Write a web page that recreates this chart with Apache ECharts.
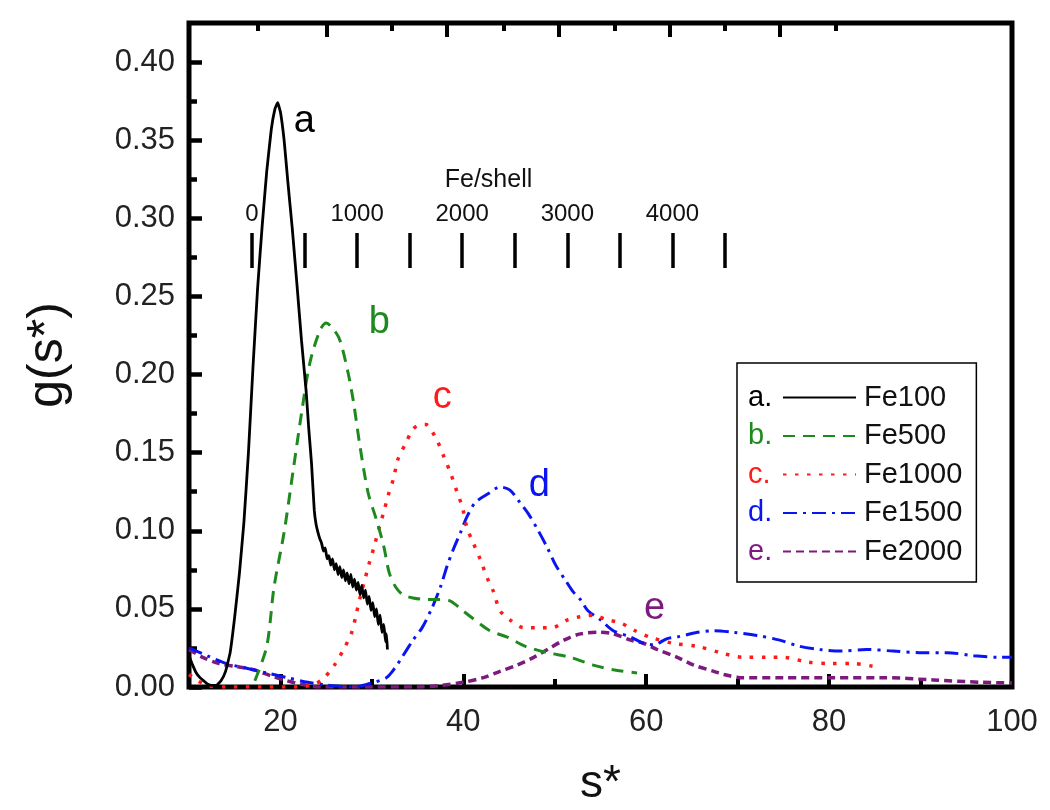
<!DOCTYPE html>
<html><head><meta charset="utf-8">
<script src="https://cdn.jsdelivr.net/npm/echarts@6/dist/echarts.min.js"></script>
<style>html,body{margin:0;padding:0;background:#fff}#c{width:1050px;height:810px}</style>
</head><body><div id="c"></div>
<script>
// ---------- data ----------
const seriesNames = ['Fe100', 'Fe500', 'Fe1000', 'Fe1500', 'Fe2000'];
const seriesTags = ['a', 'b', 'c', 'd', 'e'];
const xTickLabels = [20, 40, 60, 80, 100];
const xMinorTicks = [30, 50, 70, 90];
const yTickLabels = [0, 0.05, 0.10, 0.15, 0.20, 0.25, 0.30, 0.35, 0.40];
const yMinorTicks = [0.025, 0.075, 0.125, 0.175, 0.225, 0.275, 0.325, 0.375];
const topLongTicks = [25.1, 38.2, 50.4, 62.6, 74.6];
const topShortTicks = [17.5, 32.2, 44.4, 56.6, 68.6, 80.7];
const feShellLabels = [0, 1000, 2000, 3000, 4000];
const tagAnchors = [[22.6, 0.362], [30.8, 0.233], [37.7, 0.185], [48.3, 0.129], [60.9, 0.050]];

const fe100 = [[10,0.020],[10.4,0.014],[10.8,0.009],[11.2,0.006],[11.6,0.004],[12.0,0.002],[12.5,0.001],[13.0,0.001],[13.5,0.004],
 [14.0,0.010],[14.5,0.022],[15.0,0.045],[15.5,0.072],[16.0,0.105],[16.5,0.150],[17.0,0.205],[17.5,0.255],[18.0,0.295],[18.5,0.330],
 [19.0,0.357],[19.4,0.370],[19.7,0.374],[20.0,0.368],[20.4,0.350],[20.8,0.324],[21.3,0.293],[21.8,0.258],[22.3,0.222],[22.8,0.190],
 [23.1,0.165],[23.4,0.143],[23.7,0.113],[23.9,0.104],[24.1,0.099],[24.3,0.095],[24.5,0.092],[24.7,0.087],[24.9,0.089],[25.1,0.082],
 [25.3,0.084],[25.5,0.078],[25.7,0.082],[25.9,0.075],[26.1,0.079],[26.3,0.072],[26.5,0.077],[26.7,0.070],[26.9,0.075],[27.1,0.068],
 [27.3,0.073],[27.5,0.066],[27.7,0.072],[27.9,0.064],[28.1,0.069],[28.3,0.062],[28.5,0.067],[28.7,0.059],[28.9,0.065],[29.1,0.057],
 [29.3,0.062],[29.5,0.053],[29.7,0.058],[29.9,0.049],[30.1,0.054],[30.3,0.045],[30.5,0.050],[30.7,0.040],[30.9,0.046],[31.1,0.035],
 [31.3,0.040],[31.5,0.029],[31.6,0.034],[31.7,0.024]];
const fe500 = [[17.2,0.004],[18.5,0.026],[19.3,0.064],[20.4,0.099],[21.4,0.139],[22.3,0.175],[23.2,0.207],[24.3,0.228],[25.0,0.233],
 [25.8,0.229],[26.5,0.222],[27.4,0.201],[28.0,0.182],[28.7,0.154],[29.6,0.124],[30.5,0.107],[31.3,0.090],[31.9,0.073],[32.6,0.064],
 [33.4,0.059],[34.5,0.057],[36.0,0.056],[37.3,0.056],[38.6,0.055],[39.7,0.050],[40.8,0.045],[42.9,0.036],[44.8,0.032],[46.8,0.026],
 [49.2,0.022],[51.7,0.019],[54.2,0.014],[56.4,0.011],[59.0,0.009]];
const fe1000 = [[10,0.008],[11,0.004],[12,0.001],[14,0.0],[18,0.0],[22,0.0],[23.8,0.002],[24.8,0.006],[25.9,0.014],[27.0,0.025],
 [27.8,0.035],[28.3,0.047],[28.7,0.057],[29.2,0.068],[29.7,0.079],[30.3,0.091],[30.8,0.102],[31.3,0.112],[31.8,0.123],[32.4,0.134],
 [32.8,0.145],[33.7,0.156],[34.5,0.165],[35.3,0.168],[35.9,0.168],[37.1,0.158],[37.9,0.147],[38.6,0.137],[39.3,0.125],[39.9,0.115],
 [40.4,0.102],[41.1,0.092],[41.9,0.081],[42.6,0.070],[43.3,0.061],[44.0,0.049],[45.1,0.043],[46.6,0.038],[48.4,0.038],[49.7,0.038],
 [51.4,0.043],[52.8,0.045],[54.2,0.046],[55.7,0.043],[57.2,0.041],[58.8,0.036],[60.4,0.032],[62.9,0.028],[65.6,0.026],[68.1,0.022],
 [70.6,0.019],[73.2,0.019],[75.0,0.019],[77.6,0.016],[80.1,0.015],[82.7,0.015],[85.0,0.013]];
const fe1500 = [[10,0.025],[12,0.020],[14.1,0.015],[16.3,0.012],[18.5,0.009],[20.7,0.006],[23,0.003],[25,0.0013],[28,0.0],
 [30.2,0.003],[31.6,0.006],[32.5,0.012],[33.4,0.020],[34.5,0.030],[35.5,0.038],[36.6,0.051],[37.5,0.064],[38.2,0.077],[38.9,0.088],
 [39.7,0.099],[40.4,0.109],[41.3,0.118],[42.8,0.124],[44.0,0.128],[45.1,0.126],[46.2,0.118],[47.1,0.111],[48.2,0.100],[49.2,0.089],
 [50.1,0.078],[51.2,0.068],[52.0,0.061],[52.8,0.056],[53.6,0.049],[55.0,0.043],[56.4,0.036],[58.3,0.032],[59.7,0.028],[60.8,0.027],
 [62.3,0.031],[63.4,0.032],[65.6,0.035],[67.4,0.036],[69.5,0.035],[72.1,0.033],[74.6,0.030],[76.8,0.026],[79.0,0.024],[81.2,0.023],
 [84.1,0.024],[87.0,0.023],[89.9,0.022],[92.9,0.022],[95.8,0.020],[98.7,0.019],[100,0.019]];
const fe2000 = [[10,0.024],[11.5,0.019],[13.3,0.015],[15.2,0.013],[17.1,0.011],[19,0.007],[20.7,0.004],[22.1,0.002],[24.3,0.0],
 [30,0.0],[35,0.0],[37.5,0.001],[40.0,0.003],[42.2,0.006],[44.0,0.010],[45.9,0.014],[47.7,0.019],[49.2,0.024],[51.0,0.030],
 [52.8,0.034],[55.0,0.035],[56.4,0.034],[58.3,0.030],[59.7,0.028],[61.2,0.024],[63.4,0.019],[65.2,0.014],[67.4,0.010],[68.5,0.008],
 [70.3,0.006],[75.0,0.006],[80.5,0.006],[85.9,0.006],[91.4,0.0045],[96.8,0.003],[100,0.0026]];

const seriesData = [fe100, fe500, fe1000, fe1500, fe2000];
// ---------- styles ----------
const colors = ['#000000', '#1e8a1e', '#ff1a1a', '#0a14f0', '#7d1a7d'];
const dashes = ['solid', [12, 8], [3.5, 8.5], [14, 6, 3, 6], [8, 5]];
const widths = [2.8, 3, 3.5, 3, 3.5];
const smooths = [0.1, 0.3, 0.3, 0.3, 0.3];
const FONT = 'Liberation Sans, Arial, sans-serif';

const chart = echarts.init(document.getElementById('c'), null, {renderer: 'canvas'});

const series = seriesNames.map((n, i) => ({
  name: n, type: 'line', xAxisIndex: 0, yAxisIndex: 0,
  data: seriesData[i], showSymbol: false, symbol: 'none', smooth: smooths[i],
  lineStyle: {color: colors[i], width: widths[i], type: dashes[i]},
  itemStyle: {color: colors[i]},
  z: 5 - i,
  markPoint: {
    symbol: 'circle', symbolSize: 0, silent: true,
    label: {show: true, position: 'inside', formatter: seriesTags[i], fontSize: 38,
            fontFamily: FONT, color: colors[i]},
    data: [{coord: tagAnchors[i]}]
  }
}));

const tickLine = w => ({color: '#000', width: w});
const noLine = {show: false, onZero: false};

chart.setOption({
  animation: false,
  backgroundColor: '#fff',
  textStyle: {fontFamily: FONT},
  grid: [
    {left: 189, right: 38, top: 23, bottom: 123, show: true, borderColor: '#000', borderWidth: 5,
     backgroundColor: 'transparent', containLabel: false, outerBoundsMode: 'none'},
    {left: 252, width: 473, top: 233, height: 35, show: false, containLabel: false, outerBoundsMode: 'none'}
  ],
  xAxis: [
    {gridIndex: 0, type: 'value', position: 'bottom', min: 10, max: 100,
     axisLine: noLine, splitLine: {show: false},
     axisTick: {show: true, inside: true, length: 13, lineStyle: tickLine(4), customValues: xTickLabels},
     axisLabel: {show: true, customValues: xTickLabels, fontSize: 31, color: '#222', margin: 20, fontFamily: FONT},
     name: 's*', nameLocation: 'middle', nameGap: 74,
     nameTextStyle: {fontSize: 46, color: '#111', fontFamily: FONT}},
    {gridIndex: 0, type: 'value', position: 'bottom', offset: 0, min: 10, max: 100,
     axisLine: noLine, splitLine: {show: false}, axisLabel: {show: false},
     axisTick: {show: true, inside: true, length: 8, lineStyle: tickLine(4), customValues: xMinorTicks}},
    {gridIndex: 0, type: 'value', position: 'top', offset: 0, min: 10, max: 100,
     axisLine: noLine, splitLine: {show: false}, axisLabel: {show: false},
     axisTick: {show: true, inside: true, length: 14, lineStyle: tickLine(4), customValues: topLongTicks}},
    {gridIndex: 0, type: 'value', position: 'top', offset: 0, min: 10, max: 100,
     axisLine: noLine, splitLine: {show: false}, axisLabel: {show: false},
     axisTick: {show: true, inside: true, length: 8, lineStyle: tickLine(4), customValues: topShortTicks}},
    {gridIndex: 1, type: 'value', position: 'top', min: 0, max: 4500, interval: 500,
     axisLine: noLine, splitLine: {show: false},
     axisTick: {show: true, inside: true, length: 35, lineStyle: tickLine(3.5)},
     axisLabel: {show: true, customValues: feShellLabels, formatter: v => String(v),
                 fontSize: 24, color: '#111', margin: 7, fontFamily: FONT},
     name: 'Fe/shell', nameLocation: 'middle', nameGap: 40,
     nameTextStyle: {fontSize: 25, color: '#111', fontFamily: FONT}}
  ],
  yAxis: [
    {gridIndex: 0, type: 'value', position: 'left', min: 0, max: 0.425,
     axisLine: noLine, splitLine: {show: false},
     axisTick: {show: true, inside: true, length: 13, lineStyle: tickLine(4.5), customValues: yTickLabels},
     axisLabel: {show: true, customValues: yTickLabels, formatter: v => v.toFixed(2),
                 fontSize: 31, color: '#222', margin: 14, fontFamily: FONT},
     name: 'g(s*)', nameLocation: 'middle', nameGap: 116, nameRotate: 90,
     nameTextStyle: {fontSize: 50, color: '#111', fontFamily: FONT}},
    {gridIndex: 0, type: 'value', position: 'left', offset: 0, min: 0, max: 0.425,
     axisLine: noLine, splitLine: {show: false}, axisLabel: {show: false},
     axisTick: {show: true, inside: true, length: 8, lineStyle: tickLine(4.5), customValues: yMinorTicks}},
    {gridIndex: 1, type: 'value', show: false, min: 0, max: 1, axisLine: noLine}
  ],
  legend: {
    orient: 'vertical', left: 737, top: 363,
    data: seriesNames,
    backgroundColor: '#fff', borderColor: '#000', borderWidth: 1.5, borderRadius: 0,
    padding: [20, 14, 16, 45],
    itemWidth: 73, itemHeight: 14, itemGap: 9.5,
    itemStyle: {opacity: 0},
    textStyle: {fontSize: 29, color: '#111', fontFamily: FONT, padding: [0, 0, 0, 3]},
    selectedMode: false
  },
  graphic: seriesTags.map((t, i) => ({
    type: 'text', left: 748, top: 383 + i * 38.6, z: 100,
    style: {text: t + '.', fontSize: 29, fill: colors[i], fontFamily: FONT}
  })),
  series: series
});
</script>
</body></html>
